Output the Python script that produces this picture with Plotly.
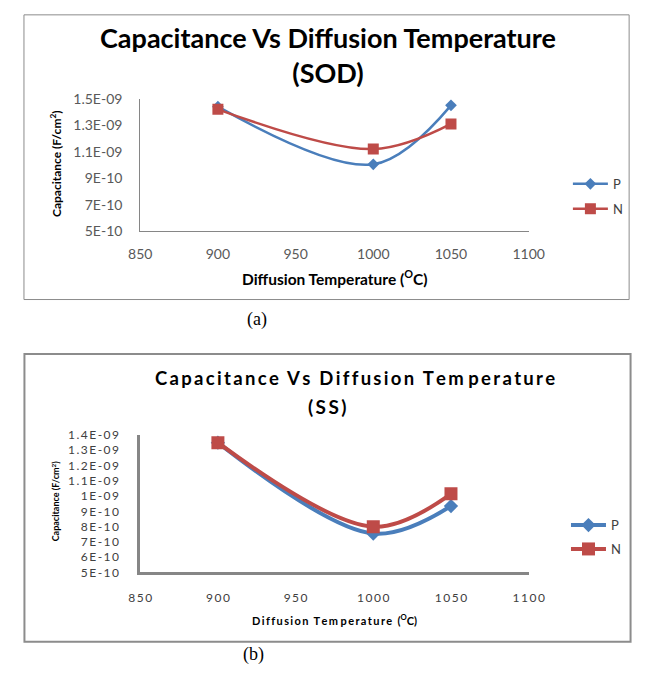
import plotly.graph_objects as go

# ---------------- data ----------------
temps = [900, 1000, 1050]
sod_p = [1.44e-9, 1.005e-9, 1.45e-9]
sod_n = [1.42e-9, 1.12e-9, 1.31e-9]
ss_p = [1.35e-9, 7.55e-10, 9.35e-10]
ss_n = [1.35e-9, 8.0e-10, 1.015e-9]

x_ticks = [850, 900, 950, 1000, 1050, 1100]
sod_y_ticks = [5e-10, 7e-10, 9e-10, 1.1e-9, 1.3e-9, 1.5e-9]
sod_y_labels = ["5E-10", "7E-10", "9E-10", "1.1E-09", "1.3E-09", "1.5E-09"]
ss_y_ticks = [5e-10, 6e-10, 7e-10, 8e-10, 9e-10, 1e-9, 1.1e-9, 1.2e-9, 1.3e-9, 1.4e-9]
ss_y_labels = ["5E-10", "6E-10", "7E-10", "8E-10", "9E-10", "1E-09",
               "1.1E-09", "1.2E-09", "1.3E-09", "1.4E-09"]

W, H = 648, 677
BLUE = "#4A7EBB"
RED = "#BE4B48"
AXIS = "#868686"
TXT = "#404040"
FONT = "Lato"


def X(px):
    return px / W


def Y(py):
    return 1 - py / H


def spaced(s, sep="\u2009"):
    return sep.join(list(s))


fig = go.Figure()

# (a) SOD
fig.add_trace(go.Scatter(x=temps, y=sod_p, name="P", mode="lines+markers",
                         line=dict(color=BLUE, width=2.5, shape="spline", smoothing=1),
                         marker=dict(symbol="diamond", size=9, color=BLUE),
                         xaxis="x", yaxis="y", legend="legend", legendgroup="a1"))
fig.add_trace(go.Scatter(x=temps, y=sod_n, name="N", mode="lines+markers",
                         line=dict(color=RED, width=2.5, shape="spline", smoothing=1),
                         marker=dict(symbol="square", size=11, color=RED),
                         xaxis="x", yaxis="y", legend="legend", legendgroup="a2"))
# (b) SS
fig.add_trace(go.Scatter(x=temps, y=ss_p, name="P", mode="lines+markers",
                         line=dict(color=BLUE, width=4, shape="spline", smoothing=1),
                         marker=dict(symbol="diamond", size=11, color=BLUE),
                         xaxis="x2", yaxis="y2", legend="legend2", legendgroup="b1"))
fig.add_trace(go.Scatter(x=temps, y=ss_n, name="N", mode="lines+markers",
                         line=dict(color=RED, width=4, shape="spline", smoothing=1),
                         marker=dict(symbol="square", size=13, color=RED),
                         xaxis="x2", yaxis="y2", legend="legend2", legendgroup="b2"))

tickfont = dict(family=FONT, size=14, color="#595959")

common_x = dict(range=[850, 1100], tickvals=x_ticks, ticktext=[str(v) for v in x_ticks],
                showgrid=False, zeroline=False, showline=True, linecolor=AXIS,
                ticks="", tickfont=tickfont)
common_y = dict(showgrid=False, zeroline=False, showline=True, linecolor=AXIS,
                ticks="", tickfont=tickfont)

fig.update_layout(
    width=W, height=H,
    margin=dict(l=0, r=0, t=0, b=0),
    paper_bgcolor="white", plot_bgcolor="white",
    showlegend=True,
    xaxis=dict(common_x, domain=[X(134), X(540)], anchor="y", linewidth=1,
               ticklabelstandoff=10),
    yaxis=dict(common_y, domain=[Y(228), Y(92)], anchor="x", range=[5e-10, 1.5e-9],
               tickvals=sod_y_ticks, ticktext=sod_y_labels, linewidth=1,
               ticklabelstandoff=14),
    xaxis2=dict(common_x, domain=[X(134), X(540)], anchor="y2", linewidth=2.5,
                ticktext=[spaced(str(v)) for v in x_ticks],
                tickfont=dict(family=FONT, size=12, color="#404040"),
                ticklabelstandoff=12),
    yaxis2=dict(common_y, domain=[Y(578), Y(437)], anchor="x2", range=[5e-10, 1.4e-9],
                tickvals=ss_y_ticks, ticktext=[spaced(t) for t in ss_y_labels],
                tickfont=dict(family=FONT, size=12, color="#404040"),
                linewidth=2.5, ticklabelstandoff=16),
    legend=dict(x=X(581), y=Y(164), xanchor="left", yanchor="top",
                font=dict(family=FONT, size=13, color=TXT), bgcolor="rgba(0,0,0,0)",
                traceorder="grouped", tracegroupgap=5, itemwidth=35),
    legend2=dict(x=X(579), y=Y(514), xanchor="left", yanchor="top",
                 font=dict(family=FONT, size=13, color=TXT), bgcolor="rgba(0,0,0,0)",
                 traceorder="grouped", tracegroupgap=4, itemwidth=35),
)

# chart frames
fig.add_shape(type="rect", xref="paper", yref="paper",
              x0=X(12.5), x1=X(645), y0=Y(298), y1=Y(6),
              line=dict(color="#8c8c8c", width=1))
fig.add_shape(type="rect", xref="paper", yref="paper",
              x0=X(13), x1=X(646.5), y0=Y(649), y1=Y(354),
              line=dict(color="#8c8c8c", width=2))

ann = []
# (a) titles
ann.append(dict(x=X(330), y=Y(47), text="<b>Capacitance Vs Diffusion Temperature<br>(SOD)</b>",
                font=dict(family=FONT, size=27, color="black")))
ann.append(dict(x=X(337), y=Y(275), text="<b>Diffusion Temperature (<sup>O</sup>C)</b>",
                font=dict(family=FONT, size=15.5, color="black")))
ann.append(dict(x=X(46), y=Y(159), text="<b>Capacitance (F/cm<sup>2</sup>)</b>", textangle=-90,
                font=dict(family=FONT, size=12, color="black")))
# (b) titles
ann.append(dict(x=X(358), y=Y(379),
                text="<b>" + spaced("Capacitance") + "  " + spaced("Vs") + "  "
                     + spaced("Diffusion") + "  " + spaced("Tem") + " "
                     + spaced("perature") + "</b>",
                font=dict(family=FONT, size=18.5, color="black")))
ann.append(dict(x=X(329), y=Y(408), text="<b>" + spaced("(SS)") + "</b>",
                font=dict(family=FONT, size=19, color="black")))
ann.append(dict(x=X(337), y=Y(626),
                text="<b>" + spaced("Diffusion") + "  " + spaced("Tem") + " "
                     + spaced("perature") + "  (<sup>O</sup>C)</b>",
                font=dict(family=FONT, size=11, color="black")))
ann.append(dict(x=X(46), y=Y(505), text="<b>Capacitance (F/cm<sup>2</sup>)</b>", textangle=-90,
                font=dict(family=FONT, size=9, color="black")))
# captions
ann.append(dict(x=X(256), y=Y(318), text="(a)",
                font=dict(family="Liberation Serif", size=18, color="black")))
ann.append(dict(x=X(252), y=Y(662), text="(b)",
                font=dict(family="Liberation Serif", size=18, color="black")))

for a in ann:
    a.update(xref="paper", yref="paper", showarrow=False, xanchor="center", yanchor="middle")
    fig.add_annotation(**a)

fig.write_html("out.html", config={"displayModeBar": False},
               post_script="document.body.style.margin='0';document.body.style.overflow='hidden';")
